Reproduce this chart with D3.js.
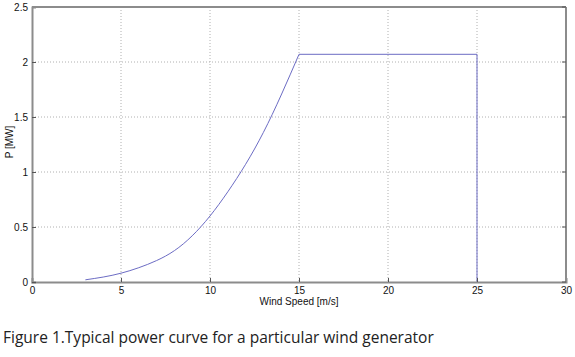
<!DOCTYPE html>
<html>
<head>
<meta charset="utf-8">
<script src="https://cdn.jsdelivr.net/npm/d3@7"></script>
<style>
  body { margin: 0; background: #fff; }
  svg { display: block; }
</style>
</head>
<body>
<div id="chart"></div>
<script>
// Power curve
var windSpeed = [3, 4, 5, 6, 7, 8, 9, 10, 11, 12, 13, 14, 15];
var powerMW   = [0.02, 0.045, 0.08, 0.13, 0.195, 0.285, 0.42, 0.6, 0.82, 1.07, 1.36, 1.7, 2.07];
// rated plateau and cut-out
var ratedSpeed = [15, 25, 25];
var ratedMW    = [2.07, 2.07, 0];

var xTicks = [0, 5, 10, 15, 20, 25, 30];
var yTicks = [0, 0.5, 1, 1.5, 2, 2.5];

var svg = d3.select("#chart")
    .append("svg")
    .attr("width", 575)
    .attr("height", 357);

// plot box ("top" is reserved on window, so prefix)
var plotL = 32, plotR = 566, plotT = 7, plotB = 282;

var x = d3.scaleLinear().domain([0, 30]).range([plotL, plotR]);
var y = d3.scaleLinear().domain([0, 2.5]).range([plotB, plotT]);

// Dotted grid
svg.append("g").selectAll("line")
    .data(xTicks.slice(1, -1))
    .enter().append("line")
    .attr("x1", function(d) { return x(d); })
    .attr("x2", function(d) { return x(d); })
    .attr("y1", plotT).attr("y2", plotB)
    .attr("stroke", "#b0b0b0")
    .attr("stroke-width", 1)
    .attr("stroke-dasharray", "1,2");

svg.append("g").selectAll("line")
    .data(yTicks.slice(1, -1))
    .enter().append("line")
    .attr("y1", function(d) { return y(d); })
    .attr("y2", function(d) { return y(d); })
    .attr("x1", plotL).attr("x2", plotR)
    .attr("stroke", "#b0b0b0")
    .attr("stroke-width", 1)
    .attr("stroke-dasharray", "1,2");

// Curve
var smooth = d3.line()
    .curve(d3.curveNatural)
    .x(function(d) { return x(d[0]); })
    .y(function(d) { return y(d[1]); });
var straight = d3.line()
    .x(function(d) { return x(d[0]); })
    .y(function(d) { return y(d[1]); });

svg.append("path")
    .datum(windSpeed.map(function(v, i) { return [v, powerMW[i]]; }))
    .attr("d", smooth)
    .attr("fill", "none")
    .attr("stroke", "#6c6cc4")
    .attr("stroke-width", 1);

svg.append("path")
    .datum(ratedSpeed.map(function(v, i) { return [v, ratedMW[i]]; }))
    .attr("d", straight)
    .attr("fill", "none")
    .attr("stroke", "#6c6cc4")
    .attr("stroke-width", 1);

// Axes (ticks inward, like matlab)
var xAxis = svg.append("g")
    .attr("transform", "translate(0," + plotB + ")")
    .call(d3.axisBottom(x).tickValues(xTicks).tickSize(-4).tickPadding(5).tickFormat(d3.format("")));
var yAxis = svg.append("g")
    .attr("transform", "translate(" + plotL + ",0)")
    .call(d3.axisLeft(y).tickValues(yTicks).tickSize(-4).tickPadding(4).tickFormat(d3.format("")));

[xAxis, yAxis].forEach(function(a) {
    a.select(".domain").attr("stroke", "#8c8c8c").attr("stroke-width", 2);
    a.selectAll(".tick line").attr("stroke", "#555");
    a.selectAll(".tick text")
        .attr("fill", "#111")
        .style("font-family", "'Liberation Sans', Arial, sans-serif")
        .style("font-size", "10px");
});

// Box top and right
svg.append("line")
    .attr("x1", plotL).attr("x2", plotR).attr("y1", plotT).attr("y2", plotT)
    .attr("stroke", "#8c8c8c").attr("stroke-width", 2);
svg.append("line")
    .attr("x1", plotR).attr("x2", plotR).attr("y1", plotT).attr("y2", plotB)
    .attr("stroke", "#8c8c8c").attr("stroke-width", 2);
// Ticks on right side
svg.append("g").selectAll("line")
    .data(yTicks)
    .enter().append("line")
    .attr("x1", plotR - 4).attr("x2", plotR)
    .attr("y1", function(d) { return y(d); })
    .attr("y2", function(d) { return y(d); })
    .attr("stroke", "#555");

// Axis labels
svg.append("text")
    .attr("x", (plotL + plotR) / 2)
    .attr("y", 305)
    .attr("text-anchor", "middle")
    .style("font-family", "'Liberation Sans', Arial, sans-serif")
    .style("font-size", "10px")
    .attr("fill", "#111")
    .text("Wind Speed [m/s]");

svg.append("text")
    .attr("transform", "translate(13," + 142 + ") rotate(-90)")
    .attr("text-anchor", "middle")
    .style("font-family", "'Liberation Sans', Arial, sans-serif")
    .style("font-size", "10px")
    .attr("fill", "#111")
    .text("P [MW]");

// Caption
svg.append("text")
    .attr("x", 3)
    .attr("y", 343)
    .style("font-family", "'Open Sans', sans-serif")
    .style("font-size", "15.5px")
    .attr("fill", "#222")
    .text("Figure 1.Typical power curve for a particular wind generator");
</script>
</body>
</html>
